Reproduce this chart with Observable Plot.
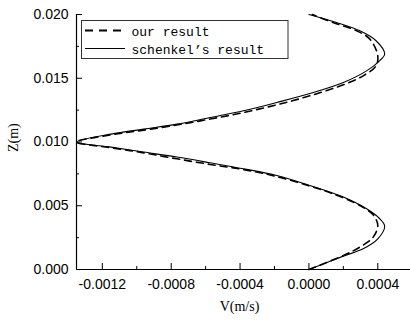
<!DOCTYPE html>
<html><head><meta charset="utf-8">
<script src="https://cdn.jsdelivr.net/npm/d3@7"></script>
<script src="https://cdn.jsdelivr.net/npm/@observablehq/plot@0.6"></script>
<style>html,body{margin:0;padding:0;background:#fff}#chart{width:410px;height:323px}</style>
</head><body><div id="chart"></div>
<script>
// Schenkel's result (solid)
const schZ = [0, 0.00105, 0.00162, 0.0024, 0.0034, 0.0040, 0.00476, 0.00568, 0.00659, 0.00737, 0.0079, 0.00837, 0.00882, 0.00921, 0.0096, 0.0100, 0.01062, 0.01101, 0.0114, 0.01192, 0.01245, 0.0131, 0.0138, 0.01467, 0.01558, 0.01637, 0.0169, 0.01794, 0.01872, 0.01937, 0.0200];
const schV = [0, 0.0002, 0.000315, 0.0004, 0.00044, 0.00041, 0.000335, 0.0002, 0.000005, -0.000187, -0.00038, -0.000574, -0.000767, -0.00096, -0.00115, -0.00135, -0.00115, -0.00096, -0.000767, -0.000574, -0.00038, -0.000187, 0.000005, 0.0002, 0.000335, 0.00041, 0.00044, 0.00039, 0.000296, 0.00016, 0];
// our result (dashed)
const ourZ = [0, 0.0011, 0.00176, 0.00254, 0.00345, 0.00429, 0.00502, 0.00594, 0.00654, 0.00729, 0.00784, 0.00824, 0.00868, 0.00915, 0.00955, 0.0100, 0.01056, 0.01093, 0.01133, 0.0118, 0.01231, 0.01292, 0.01362, 0.01449, 0.01519, 0.01598, 0.01676, 0.01807, 0.01872, 0.01937, 0.0200];
const ourV = [0, 0.0002, 0.000296, 0.000373, 0.0004, 0.000373, 0.000296, 0.00014, 0.000005, -0.000187, -0.00038, -0.000574, -0.000767, -0.00096, -0.00115, -0.00135, -0.00115, -0.00096, -0.000767, -0.000574, -0.00038, -0.000187, 0.000005, 0.0002, 0.000315, 0.00039, 0.0004, 0.000354, 0.000277, 0.00014, 0.00002];

const xMajor = [-0.0012, -0.0008, -0.0004, 0, 0.0004];
const xMinor = [-0.001, -0.0006, -0.0002, 0.0002];
const xTickLabels = ["-0.0012", "-0.0008", "-0.0004", "0.0000", "0.0004"];
const yMajor = [0, 0.005, 0.01, 0.015, 0.02];
const yMinor = [0.0025, 0.0075, 0.0125, 0.0175];
const yTickLabels = ["0.000", "0.005", "0.010", "0.015", "0.020"];
const seriesNames = ["our result", "schenkel\u2019s result"];
const xTitle = "V(m/s)";
const yTitle = "Z(m)";

const sch = schZ.map((z, i) => ({z, v: schV[i]}));
const our = ourZ.map((z, i) => ({z, v: ourV[i]}));

const W = 410, H = 323, mL = 76, mR = 0, mT = 14, mB = 54;
const pW = W - mL - mR, pH = H - mT - mB;
const sans = "'Liberation Sans', Arial, sans-serif";
const serif = "'Liberation Serif', 'Times New Roman', serif";

const plot = Plot.plot({
  width: W, height: H,
  marginLeft: mL, marginRight: mR, marginTop: mT, marginBottom: mB,
  style: {fontFamily: sans, fontSize: "14px", background: "#fff", color: "#000", overflow: "visible"},
  x: {domain: [-0.00135, 0.00059]},
  y: {domain: [0, 0.02]},
  marks: [
    Plot.ruleX([-0.00135], {stroke: "#000", strokeWidth: 1.2}),
    Plot.ruleY([0], {stroke: "#000", strokeWidth: 1.2}),
    Plot.tickX(xMajor, {x: d => d, insetTop: pH - 6, stroke: "#000"}),
    Plot.tickX(xMinor, {x: d => d, insetTop: pH - 3, stroke: "#000"}),
    Plot.tickY(yMajor, {y: d => d, insetRight: pW - 6, stroke: "#000"}),
    Plot.tickY(yMinor, {y: d => d, insetRight: pW - 3, stroke: "#000"}),
    Plot.axisX(xMajor, {tickSize: 0, tickPadding: 10, label: null, fontSize: 14,
      tickFormat: d => xTickLabels[xMajor.indexOf(d)]}),
    Plot.axisY(yMajor, {tickSize: 0, tickPadding: 8, label: null, fontSize: 14,
      tickFormat: d => yTickLabels[yMajor.indexOf(d)]}),
    Plot.line(sch, {x: "v", y: "z", stroke: "#000", strokeWidth: 1.1, curve: "catmull-rom"}),
    Plot.line(our, {x: "v", y: "z", stroke: "#000", strokeWidth: 1.6, strokeDasharray: "7,5", curve: "catmull-rom"}),
    Plot.text([xTitle], {frameAnchor: "bottom", dx: -4, dy: 41, fontFamily: serif, fontSize: 14, fill: "#000"}),
    Plot.text([yTitle], {frameAnchor: "left", rotate: -90, dx: -63, dy: 10, fontFamily: serif, fontSize: 14, fill: "#000"})
  ]
});

const svg = d3.select(plot);
const g = svg.append("g").attr("text-anchor", "start");
g.append("rect").attr("x", 81.5).attr("y", 20.5).attr("width", 206.5).attr("height", 38)
  .attr("fill", "#fff").attr("stroke", "#333").attr("stroke-width", 1);
g.append("line").attr("x1", 85).attr("x2", 126).attr("y1", 30.5).attr("y2", 30.5)
  .attr("stroke", "#000").attr("stroke-width", 1.8).attr("stroke-dasharray", "8,6");
g.append("line").attr("x1", 85).attr("x2", 125).attr("y1", 48.5).attr("y2", 48.5)
  .attr("stroke", "#000").attr("stroke-width", 1.1);
g.selectAll("text.leg").data(seriesNames).join("text").attr("class", "leg")
  .attr("x", 131.5).attr("y", (d, i) => i === 0 ? 36 : 54)
  .attr("text-anchor", "start")
  .attr("font-family", "'Liberation Mono', 'DejaVu Sans Mono', monospace")
  .attr("font-size", 13).attr("fill", "#000").text(d => d);

document.getElementById("chart").appendChild(plot);
</script>
</body></html>
